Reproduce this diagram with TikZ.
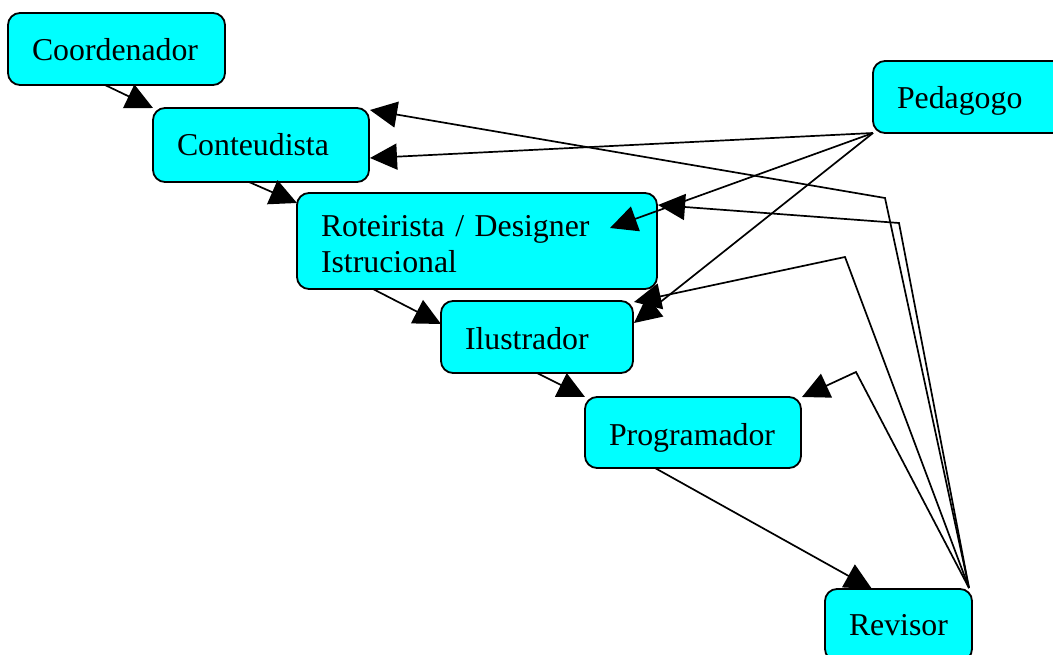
\documentclass[tikz,border=0pt]{standalone}
\usepackage{fontspec}
\setmainfont{Liberation Serif}
\usetikzlibrary{arrows.meta,calc}
\definecolor{rolefill}{RGB}{0,255,255}

\begin{document}
\begin{tikzpicture}[x=1pt,y=-1pt,
  role/.style={draw=black, line width=1.8pt, fill=rolefill, rounded corners=12pt,
    anchor=north west, align=left, inner xsep=24pt, inner ysep=0pt, outer sep=0pt,
    font=\fontsize{31.8pt}{36pt}\selectfont, text height=48pt, text depth=24pt},
  flow/.style={line width=1.7pt, -{Triangle[length=27pt,width=26pt]}, line join=miter}
]
\useasboundingbox (0,0) rectangle (1053,655);
\clip (0,0) rectangle (1053,655);

% team roles
\node[role, text width=169pt] (coord) at (8,13) {Coordenador};
\node[role, text width=168pt, text depth=26pt] (cont) at (153,108) {Conteudista};
\node[role, text width=312pt, text height=44pt, text depth=52pt] (rot) at (297,193)
  {Roteirista / Designer\\Istrucional};
\node[role, text width=144pt] (ilu) at (441,301) {Ilustrador};
\node[role, text width=168pt, text depth=23pt] (prog) at (585,397) {Programador};
\node[role, text width=99pt, text height=46pt, text depth=26pt] (rev) at (825,589) {Revisor};
\node[role, text width=168pt] (ped) at (873,61) {Pedagogo};

% feedback routing from the reviewer
\coordinate (hub) at ($(rev.north east)+(-3,-1)$);
\coordinate (b1) at (885,198);
\coordinate (b2) at (899,223);
\coordinate (b3) at (845,257);
\coordinate (b4) at (856,372);

% main production chain
\draw[flow] ($(coord.south west)+(97,0)$) -- (cont.north west);
\draw[flow] ($(cont.south west)+(96,0)$) -- ($(rot.north west)+(0,10)$);
\draw[flow] ($(rot.south west)+(76,0)$) -- ($(ilu.north west)+(0,23)$);
\draw[flow] ($(ilu.south west)+(96,0)$) -- (prog.north west);
\draw[flow] ($(prog.south west)+(70,0)$) -- ($(rev.north west)+(47,0)$);

% pedagogue
\draw[flow] (ped.south west) -- ($(cont.east)+(1,13)$);
\draw[flow] (ped.south west) -- ($(rot.north east)+(-47,35)$);
\draw[flow] (ped.south west) -- ($(ilu.north east)+(1,22)$);

% reviewer
\draw[flow] (hub) -- (b1) -- ($(cont.north east)+(1,2)$);
\draw[flow] (hub) -- (b2) -- ($(rot.north east)+(1,12)$);
\draw[flow] (hub) -- (b3) -- ($(ilu.north east)+(1,1)$);
\draw[flow] (hub) -- (b4) -- ($(prog.north east)+(1,0)$);
\end{tikzpicture}
\end{document}
